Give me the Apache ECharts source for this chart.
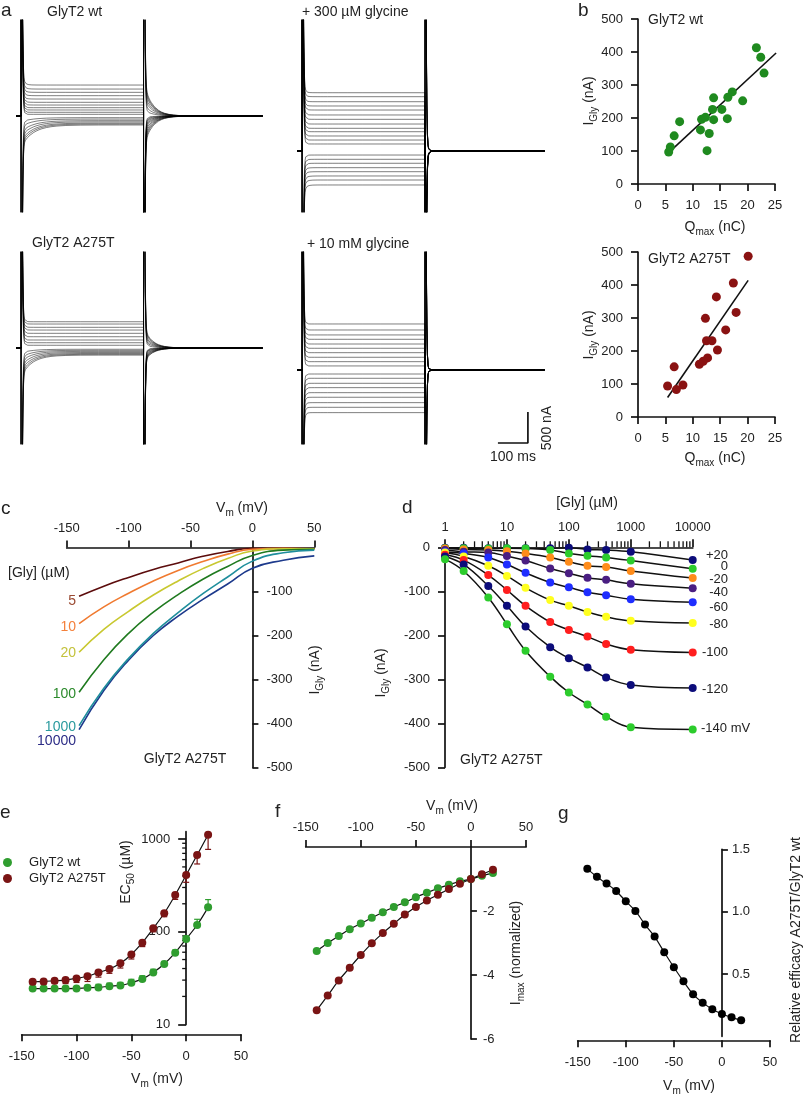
<!DOCTYPE html>
<html><head><meta charset="utf-8">
<script src="https://cdn.jsdelivr.net/npm/echarts@6.0.0/dist/echarts.min.js"></script>
<style>html,body{margin:0;padding:0;background:#fff}#main{width:805px;height:1100px}</style>
</head><body><div id="main"></div>
<script>
const F = "'Liberation Sans', Arial, sans-serif";
const INK = '#111';

// ---------------- panel a: steady-state current levels of each trace (nA) ----------------
const A_LEVELS_WT = [500,435,382,328,274,221,177,134,97,60,27,-27,-50,-75,-95,-115,-130,-145];
const A_LEVELS_GLY300 = [940,876,795,726,661,581,511,435,366,311,242,177,113,-65,-134,-198,-269,-334,-403,-468,-548];
const A_LEVELS_MUT = [424,387,334,290,237,182,129,85,44,-20,-38,-55,-72,-88,-102,-115];
const A_LEVELS_GLY10MM = [742,645,565,495,419,350,279,205,134,65,-65,-134,-215,-285,-366,-440,-527,-602,-688];
// transient kinetics (ms)
const A_KIN_WT = {tf:1.8, kPos:0.3, tsPos:8, kNeg:2.4, tsNeg:40, kOffPos:1.0, kOffNeg:3.8, to:28};
const A_KIN_GLY300 = {tf:1.8, kPos:0.15, tsPos:6, kNeg:0.3, tsNeg:8, kOffPos:0.3, kOffNeg:0.3, to:6};
const A_KIN_MUT = {tf:1.8, kPos:0.2, tsPos:6, kNeg:3.0, tsNeg:36, kOffPos:0.56, kOffNeg:3.0, to:27};
const A_KIN_GLY10MM = {tf:1.8, kPos:0.05, tsPos:5, kNeg:0.3, tsNeg:5, kOffPos:0.2, kOffNeg:0.2, to:3};
const A_T0 = -17, A_PULSE = 410, A_T1 = 810, A_SPIKE = 20000;
const A_STEPS = [0,0.5,1,1.5,2,3,4,5,6,8,10,12,15,18,22,26,30,36,42,50,60,70,85,100,120,150,200,260,330,399];
const SCALE_MS = 100, SCALE_NA = 500;

// ---------------- panel b ----------------
const B_WT_QMAX = [21.6,22.4,23.0,19.1,16.4,17.2,16.3,15.3,13.8,13.6,13.8,11.6,12.3,11.4,13.0,12.6,7.6,6.6,5.9,5.6];
const B_WT_IGLY = [413,384,336,252,263,279,198,226,261,226,195,196,202,164,153,101,189,146,112,97];
const B_WT_FIT = [[5.8,98],[25.2,397]];
const B_MUT_QMAX = [20.1,17.4,17.9,14.3,16.0,12.3,12.5,13.5,14.5,12.7,11.9,11.2,6.6,5.4,7.0,8.2];
const B_MUT_IGLY = [487,406,317,364,264,299,231,231,203,179,169,160,152,94,83,97];
const B_MUT_FIT = [[5.4,59],[20.1,414]];

// ---------------- panel c ----------------
const C_VM = [-140,-120,-100,-80,-60,-40,-20,0,25,50];
const C_GLY_LABELS = ['5','10','20','100','1000','10000'];
const C_I_5 = [-111,-88,-68,-50,-35,-20,-9,-2,-2,-3];
const C_I_10 = [-173,-135,-104,-76,-52,-32,-15,-4,-2,-3];
const C_I_20 = [-238,-186,-145,-108,-76,-48,-25,-8,-3,-3];
const C_I_100 = [-329,-255,-195,-147,-107,-72,-43,-18,-6,-4];
const C_I_1000 = [-405,-320,-252,-195,-148,-105,-67,-31,-12,-6];
const C_I_10000 = [-414,-325,-256,-200,-156,-118,-83,-47,-29,-19];

// ---------------- panel d ----------------
const D_GLY = [1,2,5,10,20,50,100,200,400,1000,10000];
const D_VM_LABELS = ['+20','0','-20','-40','-60','-80','-100','-120','-140 mV'];
const D_I_P20 = [-1,-1,-2,-2,-2,-2,-1,-5,-6,-10,-29];
const D_I_0 = [-2,-2,-3,-2,-3,-6,-14,-19,-23,-30,-49];
const D_I_M20 = [-3,-5,-6,-9,-14,-23,-33,-42,-45,-54,-70];
const D_I_M40 = [-6,-10,-12,-20,-30,-48,-59,-69,-74,-83,-93];
const D_I_M60 = [-10,-14,-23,-39,-58,-80,-91,-102,-109,-118,-125];
const D_I_M80 = [-12,-21,-42,-65,-92,-120,-133,-147,-158,-167,-172];
const D_I_M100 = [-17,-29,-63,-97,-133,-170,-188,-203,-220,-233,-239];
const D_I_M120 = [-21,-39,-88,-133,-180,-227,-252,-273,-296,-313,-320];
const D_I_M140 = [-27,-54,-114,-175,-235,-294,-330,-357,-385,-409,-414];
const D_MINOR = [2,3,4,5,6,7,8,9,20,30,40,50,60,70,80,90,200,300,400,500,600,700,800,900,2000,3000,4000,5000,6000,7000,8000,9000];

// ---------------- panels e, f, g ----------------
const VM = [-140,-130,-120,-110,-100,-90,-80,-70,-60,-50,-40,-30,-20,-10,0,10,20];
const E_EC50_WT = [24.3,24.3,24.3,24.3,24.4,24.8,25.0,25.8,26.3,28.1,30.9,36.3,44.7,59.3,83.5,118,183];
const E_SEM_WT = [1,1,1,1,1,1.5,2,2,2,2.5,2.5,3,3,4,6,18,39];
const E_EC50_MUT = [28.8,29.0,29.5,30.0,31.3,33.0,36.3,39.5,45.5,56.7,76,108.6,158,249,409,672,1114];
const E_SEM_MUT = [2,2,2,2.5,3,4,4,4,5,6,7,9,13,26,68,134,341];
const E_MINOR = [20,30,40,50,60,70,80,90,200,300,400,500,600,700,800,900];
const F_IMAX_WT = [-3.25,-3.0,-2.78,-2.57,-2.39,-2.21,-2.04,-1.875,-1.73,-1.57,-1.43,-1.29,-1.18,-1.07,-1.0,-0.9,-0.81];
const F_IMAX_MUT = [-5.10,-4.64,-4.17,-3.77,-3.375,-3.01,-2.69,-2.40,-2.11,-1.875,-1.67,-1.49,-1.31,-1.15,-1.0,-0.85,-0.71];
const F_SEM_MUT = [0.26,0.19,0.13,0.11,0.08,0.06,0.05,0.04,0.03,0.03,0.03,0.03,0.02,0.02,0.02,0.02,0.03];
const G_EFFICACY = [1.343,1.279,1.225,1.166,1.083,1.006,0.896,0.80,0.674,0.554,0.441,0.337,0.270,0.217,0.179,0.152,0.128];

// ---------------- colours ----------------
const GREEN_B = '#1f8a1f', RED_B = '#8a1212';
const GREEN_E = '#2f9d2f', RED_E = '#7a1414';
const C_LINE_COLORS = ['#5c0c0c','#f07a30','#c8c830','#1f7a1f','#1f8e9c','#1d3a8c'];
const C_TEXT_COLORS = ['#9a4a32','#f4813c','#c3c23c','#2c8a2c','#2a9a9e','#2c2c86'];
const D_COLORS = ['#0c0c7a','#2ccc2c','#ff8c1a','#4a1e82','#1e2dff','#ffff1e','#ff1e1e','#0c0c7a','#2ccc2c'];

// ================= build =================
const grids = [], xAxes = [], yAxes = [], series = [], graphics = [];
function addGrid(g, xa, ya) {
  const i = grids.length;
  grids.push(Object.assign({containLabel:false, outerBoundsMode:'none'}, g));
  xAxes.push(Object.assign({gridIndex:i, splitLine:{show:false}}, xa));
  yAxes.push(Object.assign({gridIndex:i, splitLine:{show:false}}, ya));
  return i;
}
const LINE = {show:true, onZero:false, lineStyle:{color:INK, width:1.7}};
const TICK = (len, extra) => Object.assign({show:true, length:len||7, lineStyle:{color:INK, width:1.7}}, extra||{});
const LAB = (margin, extra) => Object.assign({color:'#222', fontSize:13, fontFamily:F, margin}, extra||{});
// offset that moves a y axis from the grid edge to the x = 0 position
function zeroOffset(g, xmin, xmax, side) {
  const x0 = g.left + (0 - xmin) / (xmax - xmin) * g.width;
  return side === 'right' ? x0 - (g.left + g.width) : g.left - x0;
}

// ---- panel a ----
function trace(L, k) {
  const S = L >= 0 ? A_SPIKE : -A_SPIKE;
  const kOn = L >= 0 ? k.kPos : k.kNeg, ts = L >= 0 ? k.tsPos : k.tsNeg;
  const kOff = L >= 0 ? k.kOffPos : k.kOffNeg;
  const pts = [[A_T0, 0], [-0.01, 0]];
  A_STEPS.forEach(t => pts.push([t, L + (S - L) * Math.exp(-t / k.tf) + kOn * L * Math.exp(-t / ts)]));
  pts.push([A_PULSE, L]);
  A_STEPS.forEach(t => pts.push([A_PULSE + 0.01 + t, -S * Math.exp(-t / k.tf) - kOff * L * Math.exp(-t / k.to)]));
  pts.push([A_T1, 0]);
  return pts;
}
const aPanels = [
  {g:{left:16, top:20, width:247, height:192}, y:[-1550,1550], levels:A_LEVELS_WT, kin:A_KIN_WT},
  {g:{left:297, top:20, width:248, height:192}, y:[-984,2113], levels:A_LEVELS_GLY300, kin:A_KIN_GLY300},
  {g:{left:16, top:252, width:247, height:192}, y:[-1550,1550], levels:A_LEVELS_MUT, kin:A_KIN_MUT},
  {g:{left:297, top:252, width:248, height:192}, y:[-1194,1903], levels:A_LEVELS_GLY10MM, kin:A_KIN_GLY10MM},
];
const aIdx = aPanels.map(p => {
  const gi = addGrid(p.g, {type:'value', min:A_T0, max:A_T1, show:false}, {type:'value', min:p.y[0], max:p.y[1], show:false});
  p.levels.forEach(L => series.push({type:'line', xAxisIndex:gi, yAxisIndex:gi, data:trace(L, p.kin), symbol:'none',
    silent:true, clip:true, lineStyle:{color:'#000', width:0.6, opacity:0.85}}));
  return gi;
});
// scale bar (100 ms, 500 nA) in the last trace panel
{
  const gi = aIdx[3];
  const x1 = 753, y0 = -1178;
  series.push({type:'line', xAxisIndex:gi, yAxisIndex:gi, symbol:'none', silent:true, clip:false,
    data:[[x1 - SCALE_MS, y0],[x1, y0],[x1, y0 + SCALE_NA]], lineStyle:{color:INK, width:1.7}});
}

// ---- panel b ----
function bPanel(top, q, iv, fit, color) {
  const gi = addGrid({left:638, top, width:137, height:165},
    {type:'value', min:0, max:25, interval:5, axisLine:LINE, axisTick:TICK(7), axisLabel:LAB(15)},
    {type:'value', min:0, max:500, interval:100, axisLine:LINE, axisTick:TICK(7), axisLabel:LAB(15)});
  series.push({type:'line', xAxisIndex:gi, yAxisIndex:gi, data:fit, symbol:'none', silent:true, lineStyle:{color:INK, width:1.6}, z:2});
  series.push({type:'scatter', xAxisIndex:gi, yAxisIndex:gi, data:q.map((v,i)=>[v, iv[i]]), symbolSize:9, itemStyle:{color, opacity:1}, z:3});
}
bPanel(19, B_WT_QMAX, B_WT_IGLY, B_WT_FIT, GREEN_B);
bPanel(252, B_MUT_QMAX, B_MUT_IGLY, B_MUT_FIT, RED_B);

// ---- panel c ----
{
  const g = {left:66.7, top:547.5, width:247.6, height:220};
  const gi = addGrid(g,
    {type:'value', position:'top', min:-150, max:50, interval:50, axisLine:LINE, axisTick:TICK(7), axisLabel:LAB(13)},
    {type:'value', position:'right', offset:zeroOffset(g,-150,50,'right'), min:-500, max:0, interval:100, axisLine:LINE, axisTick:TICK(6), axisLabel:LAB(14, {showMaxLabel:false})});
  const curves = [C_I_5, C_I_10, C_I_20, C_I_100, C_I_10000, C_I_1000];
  const cols = [0,1,2,3,5,4].map(i => C_LINE_COLORS[i]);
  curves.forEach((arr, k) => series.push({type:'line', xAxisIndex:gi, yAxisIndex:gi, smooth:0.5, symbol:'none', silent:true,
    data:C_VM.map((v,i)=>[v, arr[i]]), lineStyle:{color:cols[k], width:1.6}}));
}

// ---- panel d ----
{
  const gi = addGrid({left:445, top:547.3, width:247.7, height:220},
    {type:'log', logBase:10, position:'top', min:1, max:10000, axisLine:LINE, axisTick:TICK(8), axisLabel:LAB(13, {formatter:v=>String(v)})},
    {type:'value', position:'left', min:-500, max:0, interval:100, axisLine:LINE, axisTick:TICK(7), axisLabel:LAB(15)});
  series.push({type:'custom', xAxisIndex:gi, yAxisIndex:gi, silent:true, data:D_MINOR.map(v=>[v,0]),
    renderItem:(p, api) => { const c = api.coord([api.value(0), 0]);
      return {type:'line', shape:{x1:c[0], y1:c[1], x2:c[0], y2:c[1]-6}, style:{stroke:INK, lineWidth:1.3}}; }});
  const sets = [D_I_P20, D_I_0, D_I_M20, D_I_M40, D_I_M60, D_I_M80, D_I_M100, D_I_M120, D_I_M140];
  sets.forEach(arr => series.push({type:'line', xAxisIndex:gi, yAxisIndex:gi, smooth:0.4, symbol:'none', silent:true, z:2,
    data:D_GLY.map((c,i)=>[c, arr[i]]), lineStyle:{color:INK, width:1.5}}));
  sets.forEach((arr, k) => series.push({type:'scatter', xAxisIndex:gi, yAxisIndex:gi, symbolSize:8, z:3, name:'d '+D_VM_LABELS[k],
    data:D_GLY.map((c,i)=>[c, arr[i]]), itemStyle:{color:D_COLORS[k], opacity:1}}));
}

// ---- error bar helper ----
function errBars(gi, xs, ys, sems, dir, color) {
  series.push({type:'custom', xAxisIndex:gi, yAxisIndex:gi, silent:true, z:3,
    data:xs.map((x,i)=>[x, ys[i], sems[i]]),
    renderItem:(p, api) => {
      const x = api.value(0), y = api.value(1), s = api.value(2);
      const lo = api.coord([x, dir >= 0 ? y : y - s]);
      const hi = api.coord([x, dir <= 0 ? y : y + s]);
      const ch = [];
      ch.push({type:'line', shape:{x1:lo[0], y1:lo[1], x2:hi[0], y2:hi[1]}, style:{stroke:color, lineWidth:1.2}});
      if (dir <= 0) ch.push({type:'line', shape:{x1:lo[0]-3, y1:lo[1], x2:lo[0]+3, y2:lo[1]}, style:{stroke:color, lineWidth:1.2}});
      if (dir >= 0) ch.push({type:'line', shape:{x1:hi[0]-3, y1:hi[1], x2:hi[0]+3, y2:hi[1]}, style:{stroke:color, lineWidth:1.2}});
      return {type:'group', children:ch};
    }});
}
function fitLine(gi, xs, ys) {
  series.push({type:'line', xAxisIndex:gi, yAxisIndex:gi, smooth:0.3, symbol:'none', silent:true, z:2,
    data:xs.map((x,i)=>[x, ys[i]]), lineStyle:{color:INK, width:1.2}});
}

// ---- panel e ----
{
  const g = {left:21.7, top:831.7, width:219.3, height:192.6};
  const gi = addGrid(g,
    {type:'value', position:'bottom', offset:10, min:-150, max:50, interval:50, axisLine:LINE, axisTick:TICK(7), axisLabel:LAB(16)},
    {type:'log', logBase:10, position:'left', offset:zeroOffset(g,-150,50,'left'), min:10, max:1200, axisLine:LINE,
      axisTick:TICK(8, {customValues:[10,100,1000]}), axisLabel:LAB(16, {customValues:[10,100,1000], formatter:v=>String(v)})});
  series.push({type:'custom', xAxisIndex:gi, yAxisIndex:gi, silent:true, data:E_MINOR.map(v=>[0,v]),
    renderItem:(p, api) => { const c = api.coord([0, api.value(1)]);
      return {type:'line', shape:{x1:c[0], y1:c[1], x2:c[0]-4, y2:c[1]}, style:{stroke:INK, lineWidth:1.3}}; }});
  fitLine(gi, VM, E_EC50_WT); fitLine(gi, VM, E_EC50_MUT);
  errBars(gi, VM, E_EC50_WT, E_SEM_WT, 1, GREEN_E);
  errBars(gi, VM, E_EC50_MUT, E_SEM_MUT, -1, RED_E);
  series.push({type:'scatter', name:'GlyT2 wt', xAxisIndex:gi, yAxisIndex:gi, symbolSize:8, z:4,
    data:VM.map((v,i)=>[v, E_EC50_WT[i]]), itemStyle:{color:GREEN_E, opacity:1}});
  series.push({type:'scatter', name:'GlyT2 A275T', xAxisIndex:gi, yAxisIndex:gi, symbolSize:8, z:4,
    data:VM.map((v,i)=>[v, E_EC50_MUT[i]]), itemStyle:{color:RED_E, opacity:1}});
}

// ---- panel f ----
{
  const g = {left:305.7, top:847, width:220.3, height:192};
  const gi = addGrid(g,
    {type:'value', position:'top', min:-150, max:50, interval:50, axisLine:LINE, axisTick:TICK(7), axisLabel:LAB(13)},
    {type:'value', position:'right', offset:zeroOffset(g,-150,50,'right'), min:-6, max:0, interval:2, axisLine:LINE, axisTick:TICK(6), axisLabel:LAB(12, {showMaxLabel:false})});
  fitLine(gi, VM, F_IMAX_WT); fitLine(gi, VM, F_IMAX_MUT);
  errBars(gi, VM, F_IMAX_MUT, F_SEM_MUT, 0, RED_E);
  series.push({type:'scatter', name:'f wt', xAxisIndex:gi, yAxisIndex:gi, symbolSize:8, z:4,
    data:VM.map((v,i)=>[v, F_IMAX_WT[i]]), itemStyle:{color:GREEN_E, opacity:1}});
  series.push({type:'scatter', name:'f A275T', xAxisIndex:gi, yAxisIndex:gi, symbolSize:8, z:4,
    data:VM.map((v,i)=>[v, F_IMAX_MUT[i]]), itemStyle:{color:RED_E, opacity:1}});
}

// ---- panel g ----
{
  const g = {left:577.7, top:849.3, width:192.3, height:187};
  const gi = addGrid(g,
    {type:'value', position:'bottom', offset:4, min:-150, max:50, interval:50, axisLine:LINE, axisTick:TICK(7), axisLabel:LAB(16)},
    {type:'value', position:'right', offset:zeroOffset(g,-150,50,'right'), min:0, max:1.5, interval:0.5, axisLine:LINE,
      axisTick:TICK(6, {customValues:[0.5,1,1.5]}), axisLabel:LAB(10, {showMinLabel:false, formatter:v=>v.toFixed(1)})});
  fitLine(gi, VM, G_EFFICACY);
  series.push({type:'scatter', name:'g ratio', xAxisIndex:gi, yAxisIndex:gi, symbolSize:8, z:4,
    data:VM.map((v,i)=>[v, G_EFFICACY[i]]), itemStyle:{color:'#000', opacity:1}});
}

// ================= texts =================
const RICH = {
  n:{fontSize:14, fontFamily:F, fill:'#222', color:'#222', verticalAlign:'top', lineHeight:17},
  s:{fontSize:10, fontFamily:F, fill:'#222', color:'#222', verticalAlign:'top', lineHeight:17, padding:[7,0,0,0]}
};
function txt(x, y, text, o) {
  o = o || {};
  graphics.push({type:'text', x, y, rotation:o.rot||0, silent:true, z:100,
    style:{text, fontSize:o.size||14, fontFamily:F, fill:o.color||'#222', align:o.align||'left', verticalAlign:o.va||'middle'}});
}
function rtxt(x, y, parts, o) {
  o = o || {};
  const text = parts.map(p => '{' + (p[1] ? 's' : 'n') + '|' + p[0] + '}').join('');
  graphics.push({type:'text', x, y, rotation:o.rot||0, silent:true, z:100,
    style:{text, rich:RICH, fontSize:14, fontFamily:F, fill:'#222', align:'center', verticalAlign:'middle'}});
}
const R90 = Math.PI / 2;
// panel letters
[['a',1,11],['b',578,11],['c',1,509],['d',402,508],['e',0,813],['f',275,812],['g',558,814]].forEach(l => txt(l[1], l[2], l[0], {size:19}));
// a
txt(47, 12, 'GlyT2 wt'); txt(302, 12, '+ 300 µM glycine');
txt(32, 243, 'GlyT2 A275T'); txt(307, 244, '+ 10 mM glycine');
txt(547, 428, '500 nA', {rot:R90, align:'center'});
txt(513, 457, '100 ms', {align:'center'});
// b
txt(648, 20, 'GlyT2 wt'); txt(648, 259, 'GlyT2 A275T');
rtxt(591, 101, [['I'],['Gly',1],[' (nA)']], {rot:R90});
rtxt(591, 335, [['I'],['Gly',1],[' (nA)']], {rot:R90});
rtxt(715, 229, [['Q'],['max',1],[' (nC)']]);
rtxt(715, 460, [['Q'],['max',1],[' (nC)']]);
// c
rtxt(242, 510, [['V'],['m',1],[' (mV)']]);
rtxt(317, 670, [['I'],['Gly',1],[' (nA)']], {rot:R90});
txt(8, 573, '[Gly] (µM)');
const C_LABEL_Y = [601, 627, 653, 694, 727, 741];
C_GLY_LABELS.forEach((s, i) => txt(76, C_LABEL_Y[i], s, {align:'right', color:C_TEXT_COLORS[i]}));
txt(185, 759, 'GlyT2 A275T', {align:'center'});
// d
txt(587, 503, '[Gly] (µM)', {align:'center'});
rtxt(383, 673, [['I'],['Gly',1],[' (nA)']], {rot:R90});
const D_LABEL_Y = [555, 566, 579, 592, 607, 624, 652, 689, 728];
D_VM_LABELS.forEach((s, i) => i < 8 ? txt(728, D_LABEL_Y[i], s, {align:'right', size:13}) : txt(701, D_LABEL_Y[i], s, {size:13}));
txt(460, 760, 'GlyT2 A275T');
// e
rtxt(128, 872, [['EC'],['50',1],[' (µM)']], {rot:R90});
rtxt(157, 1081, [['V'],['m',1],[' (mV)']]);
// f
rtxt(452, 808, [['V'],['m',1],[' (mV)']]);
rtxt(518, 953, [['I'],['max',1],[' (normalized)']], {rot:R90});
// g
rtxt(798, 940, [['Relative efficacy A275T/GlyT2 wt']], {rot:R90});
rtxt(689, 1088, [['V'],['m',1],[' (mV)']]);

const chart = echarts.init(document.getElementById('main'), null, {renderer:'canvas'});
chart.setOption({
  animation:false, backgroundColor:'#fff', textStyle:{fontFamily:F},
  grid:grids, xAxis:xAxes, yAxis:yAxes, series, graphic:graphics,
  legend:{orient:'vertical', left:-2, top:851, itemWidth:26, itemHeight:9, itemGap:3, icon:'circle', selectedMode:false,
    formatter:n => ' ' + n,
    textStyle:{fontSize:13, fontFamily:F, color:'#222'}, data:['GlyT2 wt','GlyT2 A275T']}
});
</script></body></html>
